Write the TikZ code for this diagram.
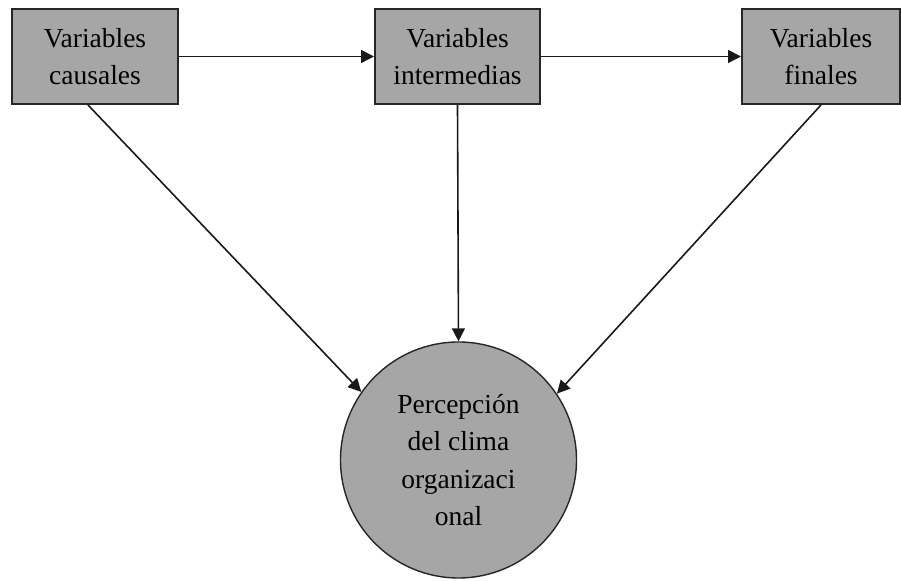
\documentclass[tikz,border=0pt]{standalone}
\usepackage{fontspec}
\setmainfont{Liberation Serif}
\usetikzlibrary{arrows.meta}
\newcommand{\boxcolor}{black!35}
\newcommand{\edgewidth}{1pt}
\newcommand{\tip}{Triangle[length=6.5pt,width=6.5pt]}

\begin{document}
\begin{tikzpicture}[x=0.5pt,y=-0.5pt,
  varbox/.style={draw=black!85,line width=\edgewidth,fill=\boxcolor,minimum height=47.5pt,
    align=center,font=\fontsize{13.75}{18.75}\selectfont,inner sep=0pt},
  flow/.style={-{\tip},line width=0.8pt,black!90}]
\useasboundingbox (0,0) rectangle (901,581);
\node[varbox,minimum width=83pt] (causal) at (95,56.5) {Variables\\causales};
\node[varbox,minimum width=82.5pt] (inter) at (457.5,56.5) {Variables\\intermedias};
\node[varbox,minimum width=79pt] (final) at (821,56.5) {Variables\\finales};
\node[varbox,circle,line width=0.7pt,minimum size=118pt] (perc) at (458.5,460) {Percepción\\del clima\\organizaci\\onal};
%arrows
\draw[flow] (causal) -- (inter);
\draw[flow] (inter) -- (final);
\draw[flow] ([xshift=-3.5pt]causal.south) -- (perc.145);
\draw[flow] (inter.south) -- (perc.north);
\draw[flow] (final.south) -- (perc.34);
\end{tikzpicture}
\end{document}
